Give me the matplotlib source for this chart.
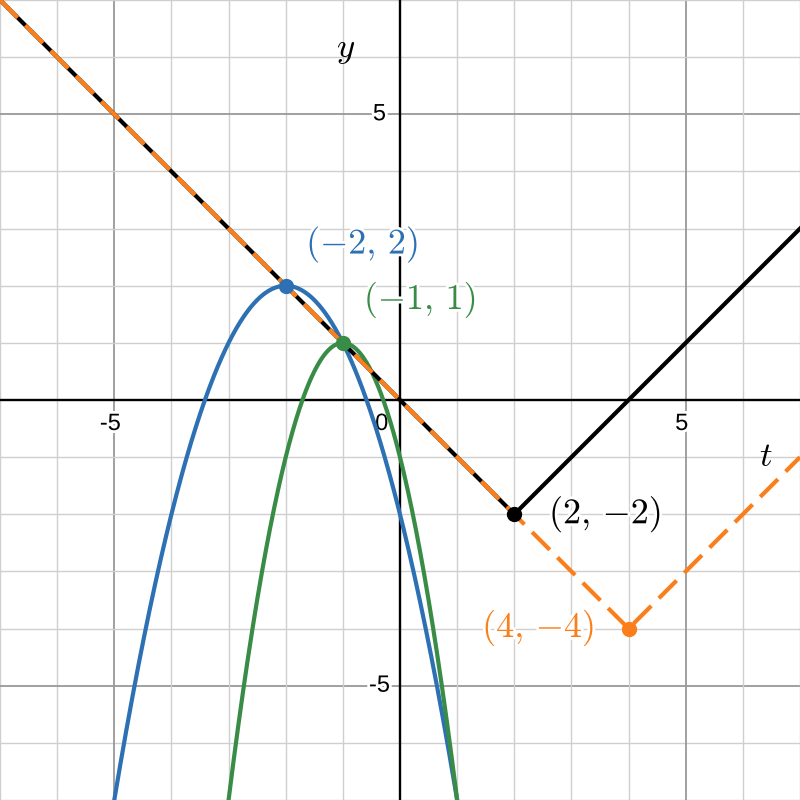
import numpy as np
import matplotlib
matplotlib.use("Agg")
import matplotlib.pyplot as plt
import matplotlib.patheffects as pe

plt.rcParams['mathtext.fontset'] = 'cm'

# view window
xmin, xmax = -7, 7
ymin, ymax = -7, 7

# abs-value curves: y = |t - h| + k
abs_vertices = [(2, -2), (4, -4)]
abs_colors = ['#000000', '#fa7e19']
abs_styles = ['-', '--']

# parabolas: y = -a (t - h)^2 + k
para_vertices = [(-2, 2), (-1, 1)]
para_a = [1, 2]
para_colors = ['#2d70b3', '#388c46']

# point labels
point_labels = [r'$(-2,\,2)$', r'$(-1,\,1)$', r'$(2,\,{-}2)$', r'$(4,\,{-}4)$']
point_colors = ['#2d70b3', '#388c46', '#000000', '#fa7e19']
label_pos = [(-0.66, 2.72), (0.35, 1.75), (3.59, -2.0), (2.42, -3.99)]

xticks = [-5, 0, 5]
yticks = [-5, 5]

fig = plt.figure(figsize=(8, 8), dpi=100)
ax = fig.add_axes([0, 0, 1, 1])
ax.set_xlim(xmin, xmax)
ax.set_ylim(ymin, ymax)
ax.axis('off')

# grid
for v in range(xmin, xmax + 1):
    major = v % 5 == 0
    c = '#999999' if major else '#cfcfcf'
    lw = 1.3 if major else 1.0
    ax.axvline(v, color=c, lw=lw, zorder=0)
    ax.axhline(v, color=c, lw=lw, zorder=0)
ax.axhline(0, color='#000000', lw=1.7, zorder=1)
ax.axvline(0, color='#000000', lw=1.7, zorder=1)

halo = [pe.withStroke(linewidth=4, foreground='white')]
for v in xticks:
    ax.text(v - 0.07 if v != 0 else -0.32, -0.42, str(v), fontsize=17,
            family='Liberation Sans', ha='center', va='center', zorder=2,
            path_effects=halo)
for v in yticks:
    ax.text(-0.36, v, str(v), fontsize=17, family='Liberation Sans',
            ha='center', va='center', zorder=2, path_effects=halo)

ax.text(-0.96, 6.15, r'$y$', fontsize=25, ha='center', va='center')
ax.text(6.4, -0.98, r'$t$', fontsize=25, ha='center', va='center')

t = np.linspace(xmin, xmax, 2001)

for (h, k), a, c in zip(para_vertices, para_a, para_colors):
    ax.plot(t, -a * (t - h) ** 2 + k, color=c, lw=3, zorder=3)

for (h, k), c, ls in zip(abs_vertices, abs_colors, abs_styles):
    line, = ax.plot(t, np.abs(t - h) + k, color=c, lw=3, ls=ls, zorder=4)
    if ls == '--':
        line.set_dashes((6, 2.6))

pts = para_vertices + abs_vertices
for (px, py), c in zip(pts, point_colors):
    ax.plot(px, py, 'o', color=c, ms=10, zorder=5)

for txt, (lx, ly), c in zip(point_labels, label_pos, point_colors):
    ax.text(lx, ly, txt, color=c, fontsize=26, ha='center', va='center',
            zorder=6, path_effects=halo)

fig.savefig('out.png', dpi=100)
